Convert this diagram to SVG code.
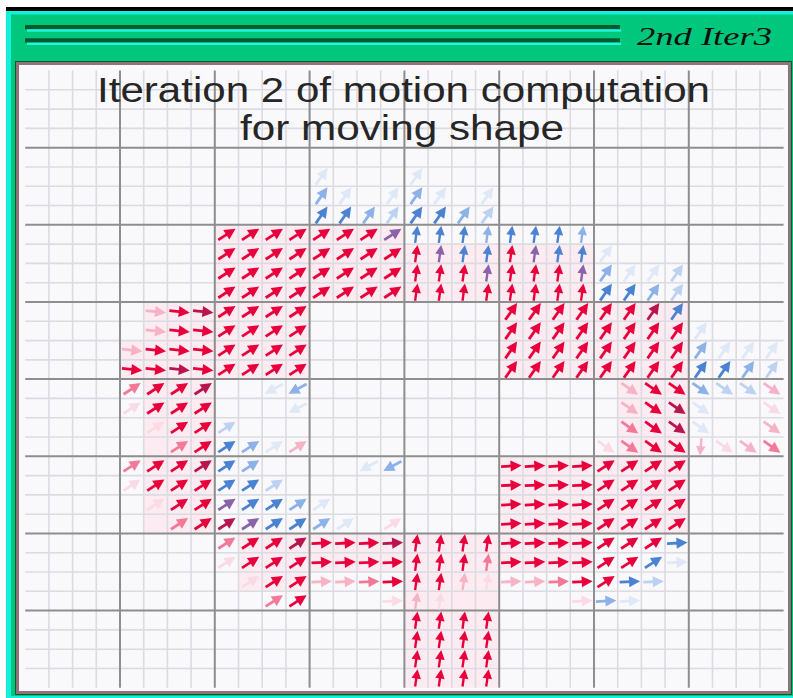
<svg xmlns="http://www.w3.org/2000/svg" xmlns:xlink="http://www.w3.org/1999/xlink" width="793" height="698" viewBox="0 0 793 698">
<style>
.r{color:#e8003d}.m{color:#b8154f}.k{color:#f27a98}.q{color:#f6b3c5}.z{color:#fadbe4}
.b{color:#4b82d2}.l{color:#8cb2e8}.f{color:#bcd2f0}.v{color:#dfe8f6}.p{color:#8a63a8}
.title{font-family:"Liberation Sans",Arial,sans-serif;font-size:35px;fill:#262626}
.tag{font-family:"Liberation Serif","Times New Roman",serif;font-style:italic;font-size:25px;fill:#111}
.minor{stroke:#dcdbe2;stroke-width:1.6;fill:none}
.major{stroke:#8e8e8e;stroke-width:2;fill:none}
.pk{fill:#fcebf0}
</style>
<defs>
<g id="A"><path d="M-10 0H2" stroke="currentColor" stroke-width="2.8" fill="none"/><path d="M10.5 0L-0.5-5.6V5.6Z" fill="currentColor"/></g>
<g id="a" transform="rotate(-33)"><use href="#A"/></g>
<g id="s" transform="rotate(-55)"><use href="#A"/></g>
<g id="u" transform="rotate(-82) scale(.85)"><use href="#A"/></g>
<g id="e" transform="rotate(-3)"><use href="#A"/></g>
<g id="h" transform="rotate(6)"><use href="#A"/></g>
<g id="d" transform="rotate(35)"><use href="#A"/></g>
<g id="w" transform="rotate(152)"><use href="#A"/></g>
<g id="n" transform="rotate(95) scale(.85)"><use href="#A"/></g>
</defs>
<g id="frame">
<rect width="793" height="698" fill="#fff"/>
<rect x="6" y="7" width="787" height="4.5" fill="#000"/>
<rect x="6" y="11" width="787" height="687" fill="#14f0dc"/>
<rect x="11" y="14.5" width="782" height="681.5" fill="#00c77b"/>
<rect x="25" y="25" width="595" height="4.3" fill="#005c2c"/>
<rect x="27" y="29.3" width="594" height="2.4" fill="#22f5e0"/>
<rect x="25" y="38.3" width="595" height="4.3" fill="#005c2c"/>
<rect x="27" y="42.6" width="594" height="2.4" fill="#22f5e0"/>
<text class="tag" x="637" y="45" textLength="135" lengthAdjust="spacingAndGlyphs">2nd Iter3</text>
<rect x="15" y="61" width="777" height="634" fill="#0b5a30"/>
<rect x="17.5" y="63.5" width="772" height="629" fill="#f9f8fb" stroke="#8e7479" stroke-width="3"/>
</g>
<g id="cells">
<rect class="pk" x="214.8" y="224.8" width="189.6" height="77.2"/>
<rect class="pk" x="404.4" y="244.1" width="189.6" height="57.9"/>
<rect class="pk" x="143.7" y="302" width="165.9" height="77.2"/>
<rect class="pk" x="120" y="340.6" width="23.7" height="38.6"/>
<rect class="pk" x="499.2" y="302" width="189.6" height="77.2"/>
<rect class="pk" x="143.7" y="379.1" width="71.1" height="154.3"/>
<rect class="pk" x="617.7" y="379.1" width="71.1" height="77.2"/>
<rect class="pk" x="499.2" y="456.3" width="189.6" height="77.2"/>
<rect class="pk" x="309.6" y="533.5" width="284.4" height="38.6"/>
<rect class="pk" x="404.4" y="533.5" width="94.8" height="154.3"/>
<rect class="pk" x="238.5" y="533.5" width="71.1" height="57.8"/>
</g>
<g id="grid">
<path class="minor" d="M48.9 70.5V687.8M72.6 70.5V687.8M96.3 70.5V687.8M143.7 70.5V687.8M167.4 70.5V687.8M191.1 70.5V687.8M238.5 70.5V687.8M262.2 70.5V687.8M285.9 70.5V687.8M333.3 70.5V687.8M357 70.5V687.8M380.7 70.5V687.8M428.1 70.5V687.8M451.8 70.5V687.8M475.5 70.5V687.8M522.9 70.5V687.8M546.6 70.5V687.8M570.3 70.5V687.8M617.7 70.5V687.8M641.4 70.5V687.8M665.1 70.5V687.8M712.5 70.5V687.8M736.2 70.5V687.8M759.9 70.5V687.8
M25.2 89.8H783.6M25.2 109.1H783.6M25.2 128.4H783.6M25.2 167H783.6M25.2 186.2H783.6M25.2 205.5H783.6M25.2 244.1H783.6M25.2 263.4H783.6M25.2 282.7H783.6M25.2 321.3H783.6M25.2 340.6H783.6M25.2 359.9H783.6M25.2 398.4H783.6M25.2 417.7H783.6M25.2 437H783.6M25.2 475.6H783.6M25.2 494.9H783.6M25.2 514.2H783.6M25.2 552.8H783.6M25.2 572H783.6M25.2 591.3H783.6M25.2 629.9H783.6M25.2 649.2H783.6M25.2 668.5H783.6"/>
<path class="major" d="M120 70.5V687.8M214.8 70.5V687.8M309.6 70.5V687.8M404.4 70.5V687.8M499.2 70.5V687.8M594 70.5V687.8M688.8 70.5V687.8
M25.2 147.7H783.6M25.2 224.8H783.6M25.2 302H783.6M25.2 379.1H783.6M25.2 456.3H783.6M25.2 533.5H783.6M25.2 610.6H783.6"/>
</g>
<g id="title">
<text class="title" x="97" y="102" textLength="613" lengthAdjust="spacingAndGlyphs">Iteration 2 of motion computation</text>
<text class="title" x="240" y="140" textLength="324" lengthAdjust="spacingAndGlyphs">for moving shape</text>
</g>
<g id="arrows">
<g transform="translate(0,176.6)"><use href="#s" x="321.5" class="v"/><use href="#s" x="416.3" class="v"/></g>
<g transform="translate(0,195.9)"><use href="#s" x="321.5" class="l"/><use href="#s" x="345.2" class="v"/><use href="#s" x="392.6" class="v"/><use href="#s" x="416.3" class="l"/><use href="#s" x="440" class="v"/><use href="#s" x="487.4" class="v"/></g>
<g transform="translate(0,215.2)"><use href="#s" x="321.5" class="b"/><use href="#s" x="345.2" class="b"/><use href="#s" x="368.9" class="l"/><use href="#s" x="392.6" class="f"/><use href="#s" x="416.3" class="b"/><use href="#s" x="440" class="b"/><use href="#s" x="463.7" class="l"/><use href="#s" x="487.4" class="f"/></g>
<g transform="translate(0,234.5)"><use href="#a" x="226.7" class="r"/><use href="#a" x="250.4" class="r"/><use href="#a" x="274.1" class="r"/><use href="#a" x="297.8" class="r"/><use href="#a" x="321.5" class="r"/><use href="#a" x="345.2" class="r"/><use href="#a" x="368.9" class="r"/><use href="#a" x="392.6" class="p"/><use href="#u" x="416.3" class="b"/><use href="#u" x="440" class="b"/><use href="#u" x="463.7" class="b"/><use href="#u" x="487.4" class="l"/><use href="#u" x="511.1" class="b"/><use href="#u" x="534.8" class="b"/><use href="#u" x="558.5" class="b"/><use href="#u" x="582.2" class="l"/></g>
<g transform="translate(0,253.8)"><use href="#a" x="226.7" class="r"/><use href="#a" x="250.4" class="r"/><use href="#a" x="274.1" class="r"/><use href="#a" x="297.8" class="r"/><use href="#a" x="321.5" class="r"/><use href="#a" x="345.2" class="r"/><use href="#a" x="368.9" class="r"/><use href="#a" x="392.6" class="r"/><use href="#u" x="416.3" class="r"/><use href="#u" x="440" class="p"/><use href="#u" x="463.7" class="b"/><use href="#u" x="487.4" class="b"/><use href="#u" x="511.1" class="r"/><use href="#u" x="534.8" class="p"/><use href="#u" x="558.5" class="b"/><use href="#u" x="582.2" class="b"/><use href="#s" x="605.9" class="v"/></g>
<g transform="translate(0,273.1)"><use href="#a" x="226.7" class="r"/><use href="#a" x="250.4" class="r"/><use href="#a" x="274.1" class="r"/><use href="#a" x="297.8" class="r"/><use href="#a" x="321.5" class="r"/><use href="#a" x="345.2" class="r"/><use href="#a" x="368.9" class="r"/><use href="#a" x="392.6" class="r"/><use href="#u" x="416.3" class="r"/><use href="#u" x="440" class="r"/><use href="#u" x="463.7" class="r"/><use href="#u" x="487.4" class="p"/><use href="#u" x="511.1" class="r"/><use href="#u" x="534.8" class="r"/><use href="#u" x="558.5" class="r"/><use href="#u" x="582.2" class="p"/><use href="#s" x="605.9" class="l"/><use href="#s" x="629.6" class="v"/><use href="#s" x="653.3" class="v"/><use href="#s" x="677" class="f"/></g>
<g transform="translate(0,292.3)"><use href="#a" x="226.7" class="r"/><use href="#a" x="250.4" class="r"/><use href="#a" x="274.1" class="r"/><use href="#a" x="297.8" class="r"/><use href="#a" x="321.5" class="r"/><use href="#a" x="345.2" class="r"/><use href="#a" x="368.9" class="r"/><use href="#a" x="392.6" class="r"/><use href="#u" x="416.3" class="r"/><use href="#u" x="440" class="r"/><use href="#u" x="463.7" class="r"/><use href="#u" x="487.4" class="r"/><use href="#u" x="511.1" class="r"/><use href="#u" x="534.8" class="r"/><use href="#u" x="558.5" class="r"/><use href="#u" x="582.2" class="r"/><use href="#s" x="605.9" class="b"/><use href="#s" x="629.6" class="b"/><use href="#s" x="653.3" class="l"/><use href="#s" x="677" class="f"/></g>
<g transform="translate(0,311.6)"><use href="#h" x="155.6" class="q"/><use href="#h" x="179.3" class="r"/><use href="#h" x="203" class="m"/><use href="#a" x="226.7" class="r"/><use href="#a" x="250.4" class="r"/><use href="#a" x="274.1" class="r"/><use href="#a" x="297.8" class="r"/><use href="#s" x="511.1" class="r"/><use href="#s" x="534.8" class="r"/><use href="#s" x="558.5" class="r"/><use href="#s" x="582.2" class="r"/><use href="#s" x="605.9" class="r"/><use href="#s" x="629.6" class="r"/><use href="#s" x="653.3" class="m"/><use href="#s" x="677" class="b"/></g>
<g transform="translate(0,330.9)"><use href="#h" x="155.6" class="q"/><use href="#h" x="179.3" class="r"/><use href="#h" x="203" class="r"/><use href="#a" x="226.7" class="r"/><use href="#a" x="250.4" class="r"/><use href="#a" x="274.1" class="r"/><use href="#a" x="297.8" class="r"/><use href="#s" x="511.1" class="r"/><use href="#s" x="534.8" class="r"/><use href="#s" x="558.5" class="r"/><use href="#s" x="582.2" class="r"/><use href="#s" x="605.9" class="r"/><use href="#s" x="629.6" class="r"/><use href="#s" x="653.3" class="r"/><use href="#s" x="677" class="r"/><use href="#s" x="700.7" class="v"/></g>
<g transform="translate(0,350.2)"><use href="#h" x="131.9" class="q"/><use href="#h" x="155.6" class="r"/><use href="#h" x="179.3" class="r"/><use href="#h" x="203" class="r"/><use href="#a" x="226.7" class="r"/><use href="#a" x="250.4" class="r"/><use href="#a" x="274.1" class="r"/><use href="#a" x="297.8" class="r"/><use href="#s" x="511.1" class="r"/><use href="#s" x="534.8" class="r"/><use href="#s" x="558.5" class="r"/><use href="#s" x="582.2" class="r"/><use href="#s" x="605.9" class="r"/><use href="#s" x="629.6" class="r"/><use href="#s" x="653.3" class="r"/><use href="#s" x="677" class="r"/><use href="#s" x="700.7" class="l"/><use href="#s" x="724.4" class="v"/><use href="#s" x="748.1" class="v"/><use href="#s" x="771.8" class="v"/></g>
<g transform="translate(0,369.5)"><use href="#h" x="131.9" class="r"/><use href="#h" x="155.6" class="r"/><use href="#h" x="179.3" class="m"/><use href="#h" x="203" class="r"/><use href="#a" x="226.7" class="r"/><use href="#a" x="250.4" class="r"/><use href="#a" x="274.1" class="r"/><use href="#a" x="297.8" class="r"/><use href="#s" x="511.1" class="r"/><use href="#s" x="534.8" class="r"/><use href="#s" x="558.5" class="r"/><use href="#s" x="582.2" class="r"/><use href="#s" x="605.9" class="r"/><use href="#s" x="629.6" class="r"/><use href="#s" x="653.3" class="r"/><use href="#s" x="677" class="r"/><use href="#s" x="700.7" class="b"/><use href="#s" x="724.4" class="b"/><use href="#s" x="748.1" class="l"/><use href="#s" x="771.8" class="f"/></g>
<g transform="translate(0,388.8)"><use href="#a" x="131.9" class="k"/><use href="#a" x="155.6" class="r"/><use href="#a" x="179.3" class="r"/><use href="#a" x="203" class="m"/><use href="#w" x="274.1" class="v"/><use href="#w" x="297.8" class="l"/><use href="#d" x="629.6" class="q"/><use href="#d" x="653.3" class="r"/><use href="#d" x="677" class="r"/><use href="#d" x="700.7" class="l"/><use href="#d" x="724.4" class="f"/><use href="#d" x="748.1" class="f"/><use href="#d" x="771.8" class="q"/></g>
<g transform="translate(0,408.1)"><use href="#a" x="131.9" class="z"/><use href="#a" x="155.6" class="r"/><use href="#a" x="179.3" class="r"/><use href="#a" x="203" class="r"/><use href="#w" x="297.8" class="v"/><use href="#d" x="629.6" class="q"/><use href="#d" x="653.3" class="r"/><use href="#d" x="677" class="m"/><use href="#d" x="700.7" class="v"/><use href="#d" x="771.8" class="z"/></g>
<g transform="translate(0,427.4)"><use href="#a" x="155.6" class="z"/><use href="#a" x="179.3" class="r"/><use href="#a" x="203" class="r"/><use href="#a" x="226.7" class="f"/><use href="#d" x="629.6" class="k"/><use href="#d" x="653.3" class="r"/><use href="#d" x="677" class="m"/><use href="#d" x="700.7" class="v"/><use href="#d" x="771.8" class="q"/></g>
<g transform="translate(0,446.7)"><use href="#a" x="179.3" class="k"/><use href="#a" x="203" class="r"/><use href="#a" x="226.7" class="b"/><use href="#a" x="250.4" class="l"/><use href="#a" x="274.1" class="v"/><use href="#a" x="297.8" class="q"/><use href="#d" x="605.9" class="z"/><use href="#d" x="629.6" class="k"/><use href="#d" x="653.3" class="r"/><use href="#d" x="677" class="r"/><use href="#n" x="700.7" class="q"/><use href="#d" x="724.4" class="z"/><use href="#d" x="748.1" class="q"/><use href="#d" x="771.8" class="k"/></g>
<g transform="translate(0,466)"><use href="#a" x="131.9" class="k"/><use href="#a" x="155.6" class="r"/><use href="#a" x="179.3" class="r"/><use href="#a" x="203" class="m"/><use href="#a" x="226.7" class="b"/><use href="#a" x="250.4" class="l"/><use href="#w" x="368.9" class="v"/><use href="#w" x="392.6" class="l"/><use href="#e" x="511.1" class="r"/><use href="#e" x="534.8" class="r"/><use href="#e" x="558.5" class="r"/><use href="#e" x="582.2" class="r"/><use href="#a" x="605.9" class="r"/><use href="#a" x="629.6" class="r"/><use href="#a" x="653.3" class="r"/><use href="#a" x="677" class="r"/></g>
<g transform="translate(0,485.2)"><use href="#a" x="131.9" class="z"/><use href="#a" x="155.6" class="r"/><use href="#a" x="179.3" class="r"/><use href="#a" x="203" class="r"/><use href="#a" x="226.7" class="b"/><use href="#a" x="250.4" class="b"/><use href="#a" x="274.1" class="f"/><use href="#e" x="511.1" class="r"/><use href="#e" x="534.8" class="r"/><use href="#e" x="558.5" class="r"/><use href="#e" x="582.2" class="r"/><use href="#a" x="605.9" class="r"/><use href="#a" x="629.6" class="r"/><use href="#a" x="653.3" class="r"/><use href="#a" x="677" class="r"/></g>
<g transform="translate(0,504.5)"><use href="#a" x="155.6" class="z"/><use href="#a" x="179.3" class="r"/><use href="#a" x="203" class="r"/><use href="#a" x="226.7" class="p"/><use href="#a" x="250.4" class="b"/><use href="#a" x="274.1" class="b"/><use href="#a" x="297.8" class="l"/><use href="#a" x="321.5" class="v"/><use href="#e" x="511.1" class="r"/><use href="#e" x="534.8" class="r"/><use href="#e" x="558.5" class="r"/><use href="#e" x="582.2" class="r"/><use href="#a" x="605.9" class="r"/><use href="#a" x="629.6" class="r"/><use href="#a" x="653.3" class="r"/><use href="#a" x="677" class="r"/></g>
<g transform="translate(0,523.8)"><use href="#a" x="179.3" class="k"/><use href="#a" x="203" class="r"/><use href="#a" x="226.7" class="m"/><use href="#a" x="250.4" class="p"/><use href="#a" x="274.1" class="b"/><use href="#a" x="297.8" class="b"/><use href="#a" x="321.5" class="l"/><use href="#a" x="345.2" class="v"/><use href="#a" x="392.6" class="z"/><use href="#e" x="511.1" class="r"/><use href="#e" x="534.8" class="r"/><use href="#e" x="558.5" class="r"/><use href="#e" x="582.2" class="r"/><use href="#a" x="605.9" class="r"/><use href="#a" x="629.6" class="r"/><use href="#a" x="653.3" class="r"/><use href="#a" x="677" class="r"/></g>
<g transform="translate(0,543.1)"><use href="#a" x="226.7" class="k"/><use href="#a" x="250.4" class="r"/><use href="#a" x="274.1" class="r"/><use href="#a" x="297.8" class="m"/><use href="#e" x="321.5" class="r"/><use href="#e" x="345.2" class="r"/><use href="#e" x="368.9" class="r"/><use href="#e" x="392.6" class="m"/><use href="#u" x="416.3" class="r"/><use href="#u" x="440" class="r"/><use href="#u" x="463.7" class="r"/><use href="#u" x="487.4" class="r"/><use href="#e" x="511.1" class="r"/><use href="#e" x="534.8" class="r"/><use href="#e" x="558.5" class="r"/><use href="#e" x="582.2" class="r"/><use href="#a" x="605.9" class="r"/><use href="#a" x="629.6" class="r"/><use href="#a" x="653.3" class="r"/><use href="#e" x="677" class="b"/></g>
<g transform="translate(0,562.4)"><use href="#a" x="226.7" class="z"/><use href="#a" x="250.4" class="r"/><use href="#a" x="274.1" class="r"/><use href="#a" x="297.8" class="r"/><use href="#e" x="321.5" class="r"/><use href="#e" x="345.2" class="r"/><use href="#e" x="368.9" class="r"/><use href="#e" x="392.6" class="r"/><use href="#u" x="416.3" class="r"/><use href="#u" x="440" class="r"/><use href="#u" x="463.7" class="r"/><use href="#u" x="487.4" class="k"/><use href="#e" x="511.1" class="r"/><use href="#e" x="534.8" class="r"/><use href="#e" x="558.5" class="r"/><use href="#e" x="582.2" class="r"/><use href="#a" x="605.9" class="r"/><use href="#a" x="629.6" class="r"/><use href="#a" x="653.3" class="b"/><use href="#e" x="677" class="v"/></g>
<g transform="translate(0,581.7)"><use href="#a" x="250.4" class="z"/><use href="#a" x="274.1" class="r"/><use href="#a" x="297.8" class="r"/><use href="#e" x="321.5" class="q"/><use href="#e" x="345.2" class="q"/><use href="#e" x="368.9" class="k"/><use href="#e" x="392.6" class="r"/><use href="#u" x="416.3" class="r"/><use href="#u" x="440" class="r"/><use href="#u" x="463.7" class="q"/><use href="#u" x="487.4" class="z"/><use href="#e" x="511.1" class="q"/><use href="#e" x="534.8" class="q"/><use href="#e" x="558.5" class="k"/><use href="#e" x="582.2" class="r"/><use href="#a" x="605.9" class="r"/><use href="#e" x="629.6" class="b"/><use href="#e" x="653.3" class="f"/></g>
<g transform="translate(0,601)"><use href="#a" x="274.1" class="k"/><use href="#a" x="297.8" class="r"/><use href="#e" x="392.6" class="z"/><use href="#u" x="416.3" class="q"/><use href="#u" x="440" class="z"/><use href="#e" x="582.2" class="z"/><use href="#e" x="605.9" class="l"/><use href="#e" x="629.6" class="v"/></g>
<g transform="translate(0,620.3)"><use href="#u" x="416.3" class="r"/><use href="#u" x="440" class="r"/><use href="#u" x="463.7" class="r"/><use href="#u" x="487.4" class="r"/></g>
<g transform="translate(0,639.6)"><use href="#u" x="416.3" class="r"/><use href="#u" x="440" class="r"/><use href="#u" x="463.7" class="r"/><use href="#u" x="487.4" class="r"/></g>
<g transform="translate(0,658.9)"><use href="#u" x="416.3" class="r"/><use href="#u" x="440" class="r"/><use href="#u" x="463.7" class="r"/><use href="#u" x="487.4" class="r"/></g>
<g transform="translate(0,678.1)"><use href="#u" x="416.3" class="r"/><use href="#u" x="440" class="r"/><use href="#u" x="463.7" class="r"/><use href="#u" x="487.4" class="r"/></g>
</g>
</svg>
